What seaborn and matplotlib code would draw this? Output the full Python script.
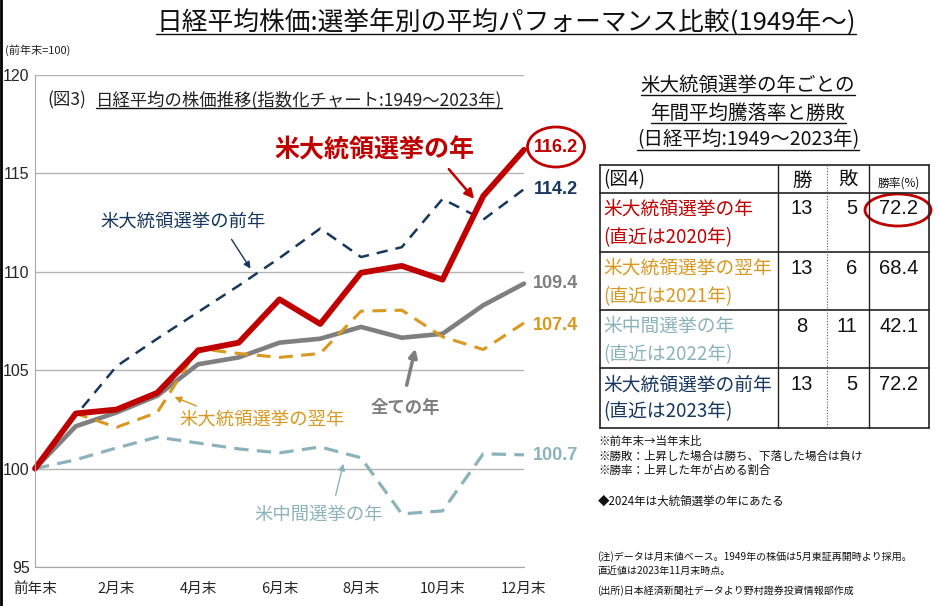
import matplotlib
matplotlib.use('Agg')
import matplotlib.pyplot as plt
from matplotlib.lines import Line2D
from matplotlib.patches import Ellipse, FancyArrowPatch
import seaborn as sns

# monthly index (previous year end = 100)
months = list(range(13))
month_labels = ['前年末', '', '2月末', '', '4月末', '', '6月末', '', '8月末', '', '10月末', '', '12月末']
elec_year = [100, 102.8, 103.0, 103.85, 106.0, 106.4, 108.6, 107.35, 109.95, 110.3, 109.6, 113.85, 116.2]
pre_year = [100, 102.7, 105.2, 106.6, 107.95, 109.3, 110.7, 112.2, 110.75, 111.25, 113.7, 112.65, 114.2]
post_year = [100, 102.8, 102.1, 102.85, 106.1, 105.85, 105.65, 105.85, 108.0, 108.05, 106.7, 106.05, 107.4]
all_years = [100, 102.15, 102.85, 103.7, 105.3, 105.65, 106.4, 106.6, 107.2, 106.65, 106.85, 108.3, 109.4]
mid_year = [100, 100.45, 101.05, 101.6, 101.3, 101.0, 100.8, 101.1, 100.55, 97.7, 97.85, 100.75, 100.7]

# table (図4)
row_names = ['米大統領選挙の年', '米大統領選挙の翌年', '米中間選挙の年', '米大統領選挙の前年']
row_recent = ['(直近は2020年)', '(直近は2021年)', '(直近は2022年)', '(直近は2023年)']
wins = [13, 13, 8, 13]
losses = [5, 6, 11, 5]
win_rate = ['72.2', '68.4', '42.1', '72.2']

RED = '#C00000'
NAVY = '#17375E'
ORANGE = '#D9981F'
GRAY = '#7F7F7F'
LBLUE = '#8DB3BA'
row_colors = [RED, ORANGE, LBLUE, NAVY]

sns.set_style('white')
JP = ['Noto Sans CJK JP', 'DejaVu Sans']
NUM = ['Liberation Sans', 'Noto Sans CJK JP']
plt.rcParams['font.family'] = JP

W, H = 939, 606
fig = plt.figure(figsize=(W / 100, H / 100), dpi=100)


def fx(x):
    return x / W


def fy(y):
    return 1 - y / H


def ftxt(x, y, s, **kw):
    kw.setdefault('va', 'center')
    return fig.text(fx(x), fy(y), s, **kw)


def farrow(x0, y0, x1, y1, color, lw=1.0, ms=10):
    fig.add_artist(FancyArrowPatch((fx(x0), fy(y0)), (fx(x1), fy(y1)),
                                   transform=fig.transFigure, arrowstyle='-|>',
                                   mutation_scale=ms, color=color, lw=lw))


def fline(x0, y0, x1, y1, **kw):
    fig.add_artist(Line2D([fx(x0), fx(x1)], [fy(y0), fy(y1)],
                          transform=fig.transFigure, **kw))


underlined = []

# ---- main chart ----
ax = fig.add_axes([fx(35), fy(567), (524 - 35) / W, (567 - 75) / H])
ax.set_xlim(0, 12)
ax.set_ylim(95, 120)
ax.set_yticks([95, 100, 105, 110, 115, 120])
ax.yaxis.grid(True, color='#B4B4B4', lw=1)
ax.set_axisbelow(True)
for s in ['top', 'right']:
    ax.spines[s].set_visible(False)
for s in ['left', 'bottom']:
    ax.spines[s].set_color('#A6A6A6')
ax.set_xticks(months)
ax.set_xticklabels(month_labels, fontsize=10.5, family=JP)
ax.tick_params(axis='x', direction='out', length=4, color='#A6A6A6', pad=7)
ax.tick_params(axis='y', direction='out', length=3, color='#A6A6A6', pad=0.8)
for lab in ax.get_yticklabels():
    lab.set_family(NUM)
    lab.set_fontsize(11.5)

sns.lineplot(x=months, y=mid_year, ax=ax, color=LBLUE, lw=2.3, linestyle=(0, (4.5, 2.6)), clip_on=False)
sns.lineplot(x=months, y=pre_year, ax=ax, color=NAVY, lw=1.8, linestyle=(0, (4.5, 3.2)), clip_on=False)
sns.lineplot(x=months, y=all_years, ax=ax, color=GRAY, lw=3.3, clip_on=False)
sns.lineplot(x=months, y=post_year, ax=ax, color=ORANGE, lw=2.2, linestyle=(0, (4.5, 2.8)), clip_on=False)
sns.lineplot(x=months, y=elec_year, ax=ax, color=RED, lw=4.2, clip_on=False)
ax.set_xlabel('')
ax.set_ylabel('')

# end values
ftxt(556, 147, f'{elec_year[-1]:.1f}', color=RED, fontsize=13, fontweight='bold', family=NUM, ha='center')
fig.add_artist(Ellipse((fx(556), fy(147)), 57 / W, 40 / H, transform=fig.transFigure,
                       fill=False, ec=RED, lw=2))
ftxt(556, 189, f'{pre_year[-1]:.1f}', color=NAVY, fontsize=13, fontweight='bold', family=NUM, ha='center')
ftxt(556, 283, f'{all_years[-1]:.1f}', color=GRAY, fontsize=13, fontweight='bold', family=NUM, ha='center')
ftxt(556, 325, f'{post_year[-1]:.1f}', color=ORANGE, fontsize=13, fontweight='bold', family=NUM, ha='center')
ftxt(556, 455, f'{mid_year[-1]:.1f}', color=LBLUE, fontsize=13, fontweight='bold', family=NUM, ha='center')

# series labels
ftxt(374, 150, '米大統領選挙の年', color=RED, fontsize=18, fontweight='bold', ha='center')
farrow(447, 167, 476, 201, RED, lw=1.8, ms=14)
ftxt(183, 222, '米大統領選挙の前年', color=NAVY, fontsize=13.2, ha='center')
farrow(230, 237, 252, 271, NAVY, lw=1.0, ms=10)
ftxt(262, 420, '米大統領選挙の翌年', color=ORANGE, fontsize=13.2, ha='center')
farrow(199, 407, 172, 396, ORANGE, lw=1.0, ms=10)
ftxt(319, 515, '米中間選挙の年', color=LBLUE, fontsize=13.2, ha='center')
farrow(335, 498, 344, 461, LBLUE, lw=1.0, ms=10)
ftxt(405, 408, '全ての年', color=GRAY, fontsize=12.5, fontweight='bold', ha='center')
farrow(406, 388, 416, 346, GRAY, lw=2.5, ms=12)

# chart subtitle
ftxt(47, 100, '(図3)', fontsize=12.5, color='#222222')
underlined.append(ftxt(96, 100, '日経平均の株価推移(指数化チャート:1949～2023年)', fontsize=12.5, color='#222222'))
ftxt(5, 50, '(前年末=100)', fontsize=8, color='#222222')

# main title
underlined.append(ftxt(506, 22, '日経平均株価:選挙年別の平均パフォーマンス比較(1949年～)',
                       fontsize=18.5, ha='center', color='#111111'))

# ---- table side ----
underlined.append(ftxt(748, 85, '米大統領選挙の年ごとの', fontsize=14, ha='center', color='#111111'))
underlined.append(ftxt(748, 113, '年間平均騰落率と勝敗', fontsize=14, ha='center', color='#111111'))
underlined.append(ftxt(748, 140, '(日経平均:1949～2023年)', fontsize=14, ha='center', color='#111111'))

tx0, tx1 = 600, 929
row_y = [165, 193, 252, 310, 368, 428]
for yy in row_y:
    fline(tx0, yy, tx1, yy, color='#222222', lw=1.2)
fline(tx0, row_y[0], tx0, row_y[-1], color='#222222', lw=1.2)
fline(tx1, row_y[0], tx1, row_y[-1], color='#222222', lw=1.2)
fline(778, row_y[0], 778, row_y[-1], color='#222222', lw=1.0)
fline(827, row_y[0], 827, row_y[-1], color='#555555', lw=0.8, linestyle=(0, (1, 1.5)))
fline(869, row_y[0], 869, row_y[-1], color='#222222', lw=1.0)

ftxt(603, 180, '(図4)', fontsize=13.5, color='#111111')
ftxt(802, 180, '勝', fontsize=14, ha='center', color='#111111')
ftxt(848, 180, '敗', fontsize=14, ha='center', color='#111111')
ftxt(899, 183, '勝率(%)', fontsize=8.5, ha='center', color='#111111')

for i in range(4):
    y1 = row_y[i + 1] + 16
    y2 = row_y[i + 1] + 45
    if i == 3:
        y1, y2 = 385, 412
    ftxt(603, y1, row_names[i], fontsize=13.5, color=row_colors[i])
    ftxt(603, y2, row_recent[i], fontsize=13.5, color=row_colors[i])
    ftxt(802, y1, str(wins[i]), fontsize=14.5, ha='center', family=NUM, color='#111111')
    ftxt(857, y1, str(losses[i]), fontsize=14.5, ha='right', family=NUM, color='#111111')
    ftxt(899, y1, win_rate[i], fontsize=14.5, ha='center', family=NUM, color='#111111')
fig.add_artist(Ellipse((fx(898), fy(210)), 66 / W, 32 / H, transform=fig.transFigure,
                       fill=False, ec=RED, lw=2))

# notes
ftxt(598, 441, '※前年末→当年末比', fontsize=8.3, color='#111111')
ftxt(598, 456, '※勝敗：上昇した場合は勝ち、下落した場合は負け', fontsize=8.3, color='#111111')
ftxt(598, 470, '※勝率：上昇した年が占める割合', fontsize=8.3, color='#111111')
ftxt(598, 501, '◆2024年は大統領選挙の年にあたる', fontsize=8.3, color='#111111')
ftxt(597, 557, '(注)データは月末値ベース。1949年の株価は5月東証再開時より採用。', fontsize=7.2, color='#111111')
ftxt(597, 571, '直近値は2023年11月末時点。', fontsize=7.2, color='#111111')
ftxt(597, 591, '(出所)日本経済新聞社データより野村證券投資情報部作成', fontsize=7.2, color='#111111')

# left frame edge
fline(1, 0, 1, H, color='black', lw=2)

# underline selected texts
fig.canvas.draw()
renderer = fig.canvas.get_renderer()
fw, fh = fig.bbox.width, fig.bbox.height
for t in underlined:
    bb = t.get_window_extent(renderer)
    yb = (bb.y0 + 1) / fh
    fig.add_artist(Line2D([bb.x0 / fw, bb.x1 / fw], [yb, yb],
                          transform=fig.transFigure, color='#111111', lw=1.0))

fig.savefig('out.png', dpi=100)
